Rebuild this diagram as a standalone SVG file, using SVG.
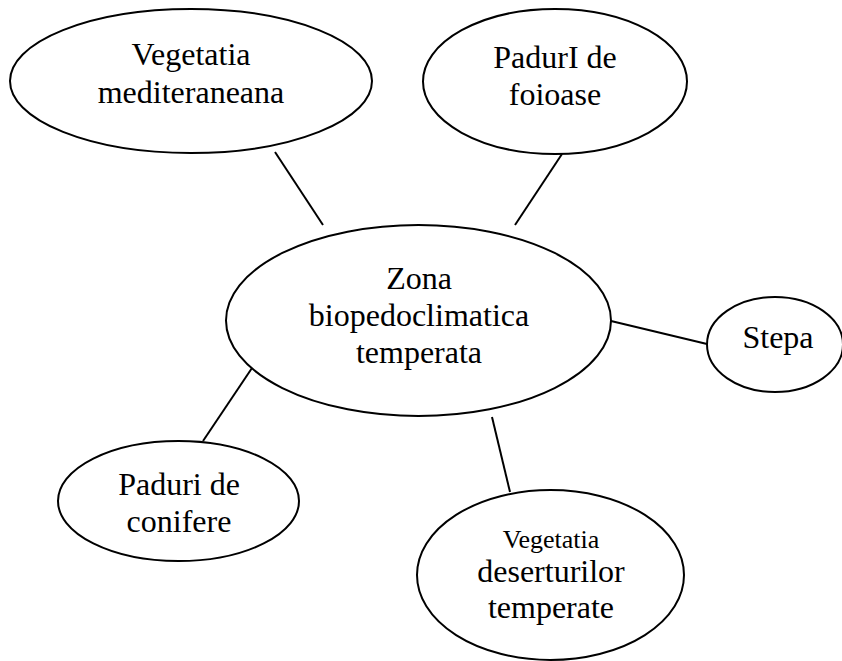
<svg xmlns="http://www.w3.org/2000/svg" width="842" height="661" viewBox="0 0 842 661">
<style>
.n{fill:#fff;stroke:#000;stroke-width:2}
.c line{stroke:#000;stroke-width:2}
text{font-family:"Liberation Serif","Times New Roman",serif;font-size:32px;fill:#000;text-anchor:middle}
.s{font-size:26px}
</style>
<rect width="842" height="661" fill="#fff"/>
<g class="c" id="connectors">
<line x1="275" y1="152" x2="323" y2="225"/>
<line x1="562" y1="154" x2="515" y2="225"/>
<line x1="611" y1="321" x2="707" y2="344"/>
<line x1="252" y1="368" x2="203" y2="441"/>
<line x1="492" y1="417" x2="510" y2="492"/>
</g>
<g id="n1"><ellipse class="n" cx="191" cy="81" rx="181" ry="72"/><text x="191" y="65">Vegetatia</text><text x="191" y="103">mediteraneana</text></g>
<g id="n2"><ellipse class="n" cx="555" cy="81.5" rx="132" ry="72.5"/><text x="555" y="68">PadurI de</text><text x="555" y="105">foioase</text></g>
<g id="n0"><ellipse class="n" cx="418.5" cy="320.5" rx="192.5" ry="95.5"/><text x="419" y="289">Zona</text><text x="419" y="326">biopedoclimatica</text><text x="419" y="363">temperata</text></g>
<g id="n3"><ellipse class="n" cx="775" cy="344.5" rx="68" ry="47.5"/><text x="778" y="348">Stepa</text></g>
<g id="n4"><ellipse class="n" cx="178.5" cy="501" rx="120.5" ry="60"/><text x="179" y="495">Paduri de</text><text x="179" y="532">conifere</text></g>
<g id="n5"><ellipse class="n" cx="550.5" cy="575" rx="133.5" ry="85"/><text class="s" x="551" y="548">Vegetatia</text><text x="551" y="582">deserturilor</text><text x="551" y="618">temperate</text></g>
</svg>
